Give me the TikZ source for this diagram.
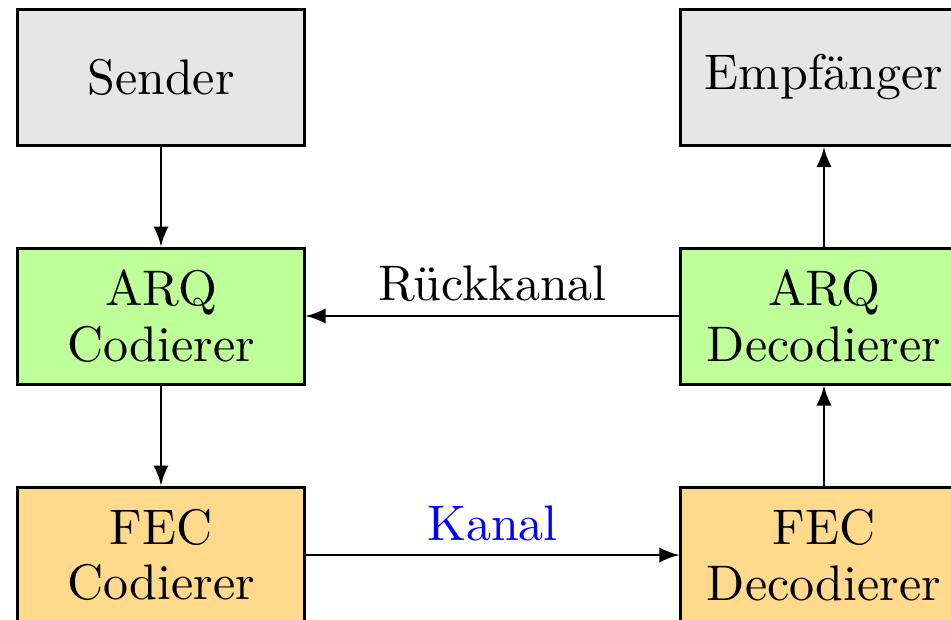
\documentclass[tikz,border=0pt]{standalone}
\usepackage{fontspec}
\usepackage{tikz}
\usetikzlibrary{arrows}

\definecolor{endgray}{RGB}{230,230,230}
\definecolor{arqgreen}{RGB}{191,255,153}
\definecolor{fecorange}{RGB}{255,217,140}

\begin{document}
\begin{tikzpicture}[x=0.2pt,y=-0.2pt,>=latex,
  block/.style={draw,line width=0.6pt,minimum width=57.2pt,minimum height=27.2pt,
    align=center,font=\fontsize{10}{11.1}\selectfont},
  link/.style={->,line width=0.4pt},
  channel/.style={midway,above,inner sep=2.6pt,font=\fontsize{10}{11.1}\selectfont}]
  \useasboundingbox (0,0) rectangle (951,619);
  % end points
  \node[block,fill=endgray] (sender) at (161,77.5) {Sender};
  \node[block,fill=endgray] (empf) at (824,77.5) {Empfänger};
  % ARQ layer
  \node[block,fill=arqgreen] (arqcod) at (161,316) {ARQ\\Codierer};
  \node[block,fill=arqgreen] (arqdec) at (824,316) {ARQ\\Decodierer};
  % FEC layer
  \node[block,fill=fecorange] (feccod) at (161,555) {FEC\\Codierer};
  \node[block,fill=fecorange] (fecdec) at (824,555) {FEC\\Decodierer};
  \draw[link] (sender) -- (arqcod);
  \draw[link] (arqcod) -- (feccod);
  \draw[link] (feccod) -- (fecdec) node[channel,text=blue]{Kanal};
  \draw[link] (fecdec) -- (arqdec);
  \draw[link] (arqdec) -- (empf);
  \draw[link] (arqdec) -- (arqcod) node[channel]{Rückkanal};
\end{tikzpicture}
\end{document}
